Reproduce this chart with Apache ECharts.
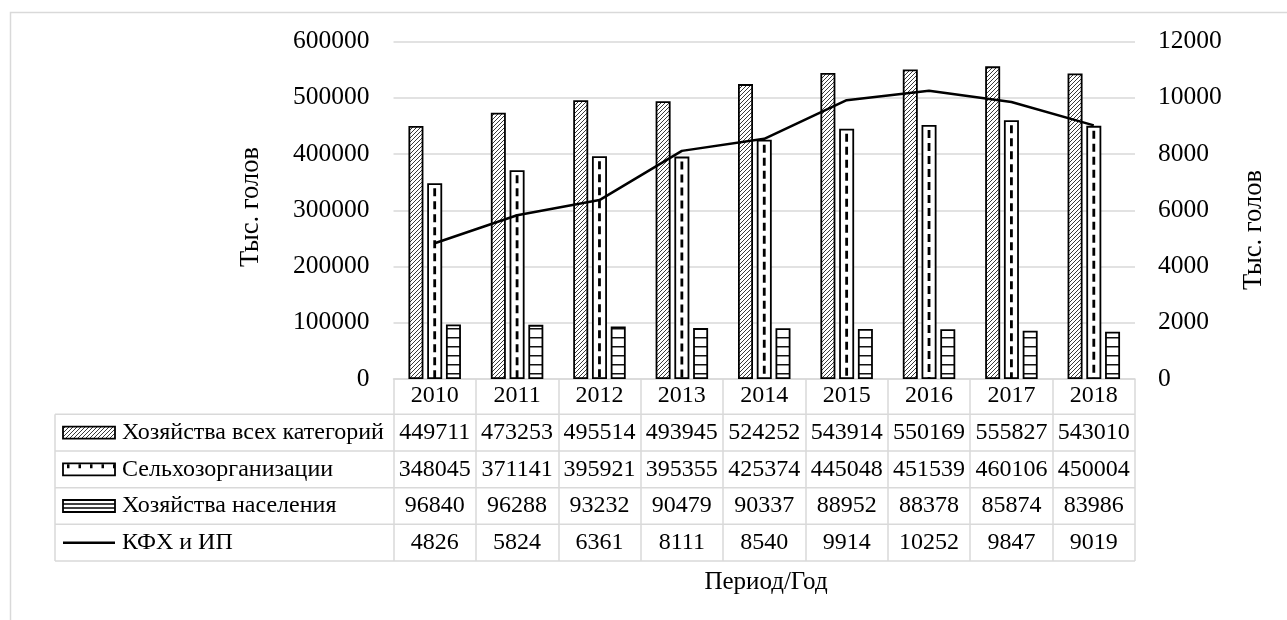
<!DOCTYPE html>
<html>
<head>
<meta charset="utf-8">
<script src="https://cdn.jsdelivr.net/npm/echarts@6/dist/echarts.min.js"></script>
<style>
  html, body { margin: 0; padding: 0; background: #fff; }
  #chart { width: 1287px; height: 620px; }
</style>
</head>
<body>
<div id="chart"></div>
<script>
// Поголовье птицы по категориям хозяйств, тыс. голов
const years = ['2010', '2011', '2012', '2013', '2014', '2015', '2016', '2017', '2018'];
const seriesNames = ['Хозяйства всех категорий', 'Сельхозорганизации', 'Хозяйства населения', 'КФХ и ИП'];
const allFarms = [449711, 473253, 495514, 493945, 524252, 543914, 550169, 555827, 543010];
const agriOrgs = [348045, 371141, 395921, 395355, 425374, 445048, 451539, 460106, 450004];
const households = [96840, 96288, 93232, 90479, 90337, 88952, 88378, 85874, 83986];
const peasantFarms = [4826, 5824, 6361, 8111, 8540, 9914, 10252, 9847, 9019];
const leftAxis = { min: 0, max: 600000, interval: 100000 };
const rightAxis = { min: 0, max: 12000, interval: 2000 };
const axisTitle = 'Тыс. голов';
const xTitle = 'Период/Год';

const FONT = '"Liberation Serif", "Times New Roman", serif';
const GRID_LINE = '#d9d9d9';

// Fill tiles: diagonal hatching and horizontal stripes
function hatchTile() {
  const c = document.createElement('canvas');
  c.width = 4; c.height = 4;
  const g = c.getContext('2d');
  g.fillStyle = '#fff'; g.fillRect(0, 0, 4, 4);
  g.strokeStyle = '#3a3a3a'; g.lineWidth = 1;
  g.beginPath();
  g.moveTo(-1, 5); g.lineTo(5, -1);
  g.moveTo(-1, 1); g.lineTo(1, -1);
  g.moveTo(3, 5); g.lineTo(5, 3);
  g.stroke();
  return c;
}
function stripeTile() {
  const c = document.createElement('canvas');
  c.width = 4; c.height = 9;
  const g = c.getContext('2d');
  g.fillStyle = '#fff'; g.fillRect(0, 0, 4, 9);
  g.fillStyle = '#111'; g.fillRect(0, 4, 4, 1.5);
  return c;
}
const hatchFill = { image: hatchTile(), repeat: 'repeat' };
const stripeFill = { image: stripeTile(), repeat: 'repeat' };

const chart = echarts.init(document.getElementById('chart'), null, { renderer: 'canvas' });

const grid = { left: 393.5, right: 152, top: 41.5, bottom: 241 };
const BAR_W = 15;
const plainNumber = v => String(v);

chart.setOption({
  animation: false,
  backgroundColor: '#fff',
  textStyle: { fontFamily: FONT },
  grid: grid,
  xAxis: {
    type: 'category',
    data: years,
    axisLine: { show: true, lineStyle: { color: GRID_LINE, width: 1.5 } },
    axisTick: { show: true, interval: 0, length: 182, lineStyle: { color: GRID_LINE, width: 1.5 } },
    axisLabel: { interval: 0, color: '#000', fontFamily: FONT, fontSize: 24, margin: 5 }
  },
  yAxis: [
    {
      type: 'value', min: leftAxis.min, max: leftAxis.max, interval: leftAxis.interval,
      axisLine: { show: false }, axisTick: { show: false },
      axisLabel: { color: '#000', fontFamily: FONT, fontSize: 25.5, margin: 24, formatter: plainNumber },
      splitLine: { lineStyle: { color: GRID_LINE, width: 1.5 } }
    },
    {
      type: 'value', min: rightAxis.min, max: rightAxis.max, interval: rightAxis.interval,
      axisLine: { show: false }, axisTick: { show: false },
      axisLabel: { color: '#000', fontFamily: FONT, fontSize: 25.5, margin: 23, formatter: plainNumber },
      splitLine: { show: false }
    }
  ],
  series: [
    {
      name: seriesNames[0], type: 'bar', data: allFarms, barWidth: BAR_W, barGap: '25%',
      itemStyle: { color: hatchFill, borderColor: '#000', borderWidth: 1.8 }, z: 2
    },
    {
      name: seriesNames[1], type: 'bar', data: agriOrgs, barWidth: BAR_W, barGap: '25%',
      itemStyle: { color: '#fff', borderColor: '#000', borderWidth: 1.8 }, z: 2
    },
    {
      name: seriesNames[2], type: 'bar', data: households, barWidth: BAR_W, barGap: '25%',
      itemStyle: { color: stripeFill, borderColor: '#000', borderWidth: 1.8 }, z: 2
    },
    {
      // dashed centre line inside the middle bar of each group
      type: 'custom', z: 3, silent: true,
      data: agriOrgs.map((v, i) => [i, v]),
      renderItem: function (params, api) {
        const top = api.coord([api.value(0), api.value(1)]);
        const base = api.coord([api.value(0), 0]);
        return {
          type: 'line',
          shape: { x1: top[0], y1: top[1] + 5, x2: base[0], y2: base[1] },
          style: { stroke: '#000', lineWidth: 2.8, lineDash: [8, 5] }
        };
      }
    },
    {
      name: seriesNames[3], type: 'line', yAxisIndex: 1, data: peasantFarms,
      symbol: 'none', lineStyle: { color: '#000', width: 2.5 }, z: 5
    }
  ]
});

// Data table with legend keys under the plot
function buildTable() {
  const rowEdges = [414.3, 451, 487.7, 524.3, 561];
  const tableLeft = 55;
  const plotRight = 1287 - grid.right;
  const els = [];

  // outer chart frame
  els.push({ type: 'rect', shape: { x: 10.5, y: 12.5, width: 1400, height: 800 },
    style: { fill: null, stroke: GRID_LINE, lineWidth: 1.5 }, silent: true, z: 0 });

  rowEdges.forEach(y => {
    els.push({ type: 'line', shape: { x1: tableLeft, y1: y, x2: plotRight, y2: y },
      style: { stroke: GRID_LINE, lineWidth: 1.5 }, silent: true });
  });
  els.push({ type: 'line', shape: { x1: tableLeft, y1: rowEdges[0], x2: tableLeft, y2: rowEdges[4] },
    style: { stroke: GRID_LINE, lineWidth: 1.5 }, silent: true });

  const rows = [allFarms, agriOrgs, households, peasantFarms];
  const keyX = 63, keyW = 52, keyH = 12;
  const cellFont = '24px ' + FONT;
  rows.forEach((vals, r) => {
    const cy = (rowEdges[r] + rowEdges[r + 1]) / 2;
    // legend key
    if (r === 0) {
      els.push({ type: 'rect', shape: { x: keyX, y: cy - keyH / 2, width: keyW, height: keyH },
        style: { fill: hatchFill, stroke: '#000', lineWidth: 1.8 } });
    } else if (r === 1) {
      els.push({ type: 'rect', shape: { x: keyX, y: cy - keyH / 2, width: keyW, height: keyH },
        style: { fill: '#fff', stroke: '#000', lineWidth: 1.8 } });
      els.push({ type: 'line', shape: { x1: keyX + 4, y1: cy - keyH / 2 + 3, x2: keyX + keyW, y2: cy - keyH / 2 + 3 },
        style: { stroke: '#000', lineWidth: 4, lineDash: [2.5, 9] } });
    } else if (r === 2) {
      els.push({ type: 'rect', shape: { x: keyX, y: cy - keyH / 2, width: keyW, height: keyH },
        style: { fill: '#fff', stroke: '#000', lineWidth: 1.8 } });
      els.push({ type: 'line', shape: { x1: keyX, y1: cy - 2, x2: keyX + keyW, y2: cy - 2 },
        style: { stroke: '#000', lineWidth: 1.4 } });
      els.push({ type: 'line', shape: { x1: keyX, y1: cy + 2, x2: keyX + keyW, y2: cy + 2 },
        style: { stroke: '#000', lineWidth: 1.4 } });
    } else {
      els.push({ type: 'line', shape: { x1: keyX, y1: cy, x2: keyX + keyW, y2: cy },
        style: { stroke: '#000', lineWidth: 2.5 } });
    }
    els.push({ type: 'text', x: 122, y: cy,
      style: { text: seriesNames[r], font: cellFont, fill: '#000', textAlign: 'left', textVerticalAlign: 'middle' } });
    vals.forEach((v, i) => {
      const cx = chart.convertToPixel({ xAxisIndex: 0 }, years[i]);
      els.push({ type: 'text', x: cx, y: cy,
        style: { text: String(v), font: cellFont, fill: '#000', textAlign: 'center', textVerticalAlign: 'middle' } });
    });
  });

  // axis titles
  const titleFont = '26.5px ' + FONT;
  els.push({ type: 'text', x: 251, y: 207, rotation: Math.PI / 2,
    style: { text: axisTitle, font: titleFont, fill: '#000', textAlign: 'center', textVerticalAlign: 'middle' } });
  els.push({ type: 'text', x: 1254, y: 230, rotation: Math.PI / 2,
    style: { text: axisTitle, font: titleFont, fill: '#000', textAlign: 'center', textVerticalAlign: 'middle' } });
  els.push({ type: 'text', x: 766, y: 582,
    style: { text: xTitle, font: '25px ' + FONT, fill: '#000', textAlign: 'center', textVerticalAlign: 'middle' } });

  chart.setOption({ graphic: { elements: els } });
}
buildTable();
</script>
</body>
</html>
